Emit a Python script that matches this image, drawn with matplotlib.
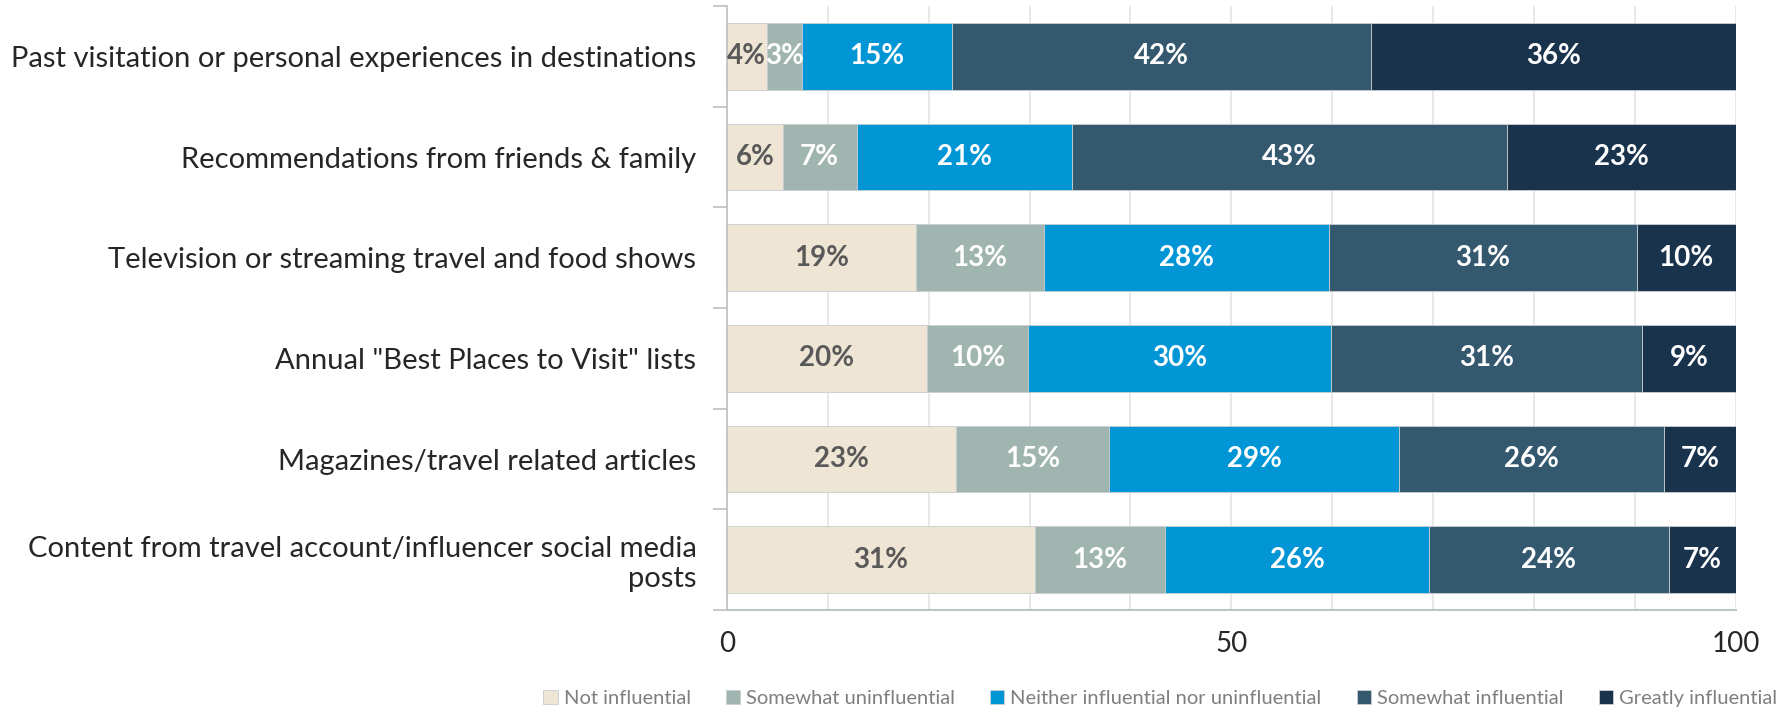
import numpy as np
import matplotlib
matplotlib.use("Agg")
import matplotlib.pyplot as plt
from matplotlib.ticker import MultipleLocator, FixedLocator

plt.rcParams["font.family"] = ["Lato", "DejaVu Sans"]

# =====================
# data
# =====================
categories = [
    "Past visitation or personal experiences in destinations",
    "Recommendations from friends & family",
    "Television or streaming travel and food shows",
    'Annual "Best Places to Visit" lists',
    "Magazines/travel related articles",
    "Content from travel account/influencer social media\nposts",
]
series_names = [
    "Not influential",
    "Somewhat uninfluential",
    "Neither influential nor uninfluential",
    "Somewhat influential",
    "Greatly influential",
]
not_influential = [3.94, 5.52, 18.69, 19.82, 22.75, 30.52]
somewhat_uninfluential = [3.49, 7.32, 12.73, 10.02, 15.09, 12.95]
neither = [14.87, 21.39, 28.26, 30.07, 28.83, 26.12]
somewhat_influential = [41.55, 43.13, 30.52, 30.86, 26.23, 23.77]
greatly_influential = [36.15, 22.64, 9.80, 9.23, 7.10, 6.64]

colors = ["#EEE5D5", "#A0B5B0", "#0096D6", "#34586E", "#1A334D"]
label_colors = ["#595959", "#FFFFFF", "#FFFFFF", "#FFFFFF", "#FFFFFF"]

series = [not_influential, somewhat_uninfluential, neither,
          somewhat_influential, greatly_influential]

# =====================
# plot
# =====================
fig = plt.figure(figsize=(17.81, 7.10), dpi=100)
ax = fig.add_axes([0.4082, 0.1408, 0.5663, 0.8507])

y = np.arange(len(categories))
left = np.zeros(len(categories))
for vals, name, col, tcol in zip(series, series_names, colors, label_colors):
    vals = np.array(vals)
    ax.barh(y, vals, left=left, height=0.66, color=col, label=name,
            edgecolor="#C9CED3", linewidth=0.6, zorder=2)
    for i, v in enumerate(vals):
        ax.text(left[i] + v / 2, y[i], f"{v:.0f}%", ha="center", va="center",
                color=tcol, fontsize=20, fontweight="bold", zorder=3)
    left += vals

ax.set_xlim(0, 100)
ax.set_ylim(len(categories) - 0.5, -0.5)

ax.xaxis.set_major_locator(FixedLocator([0, 50, 100]))
ax.xaxis.set_minor_locator(MultipleLocator(10))
ax.grid(True, axis="x", which="both", color="#E4E4E4", linewidth=1.2, zorder=0)
ax.tick_params(axis="x", which="both", length=0, labelsize=20, pad=15, colors="#262626")

ax.set_yticks(y)
ax.set_yticklabels(categories)
ax.yaxis.set_minor_locator(FixedLocator(np.arange(-0.5, len(categories), 1)))
ax.tick_params(axis="y", which="major", length=0, labelsize=21, pad=22, colors="#262626")
ax.tick_params(axis="y", which="minor", length=10, width=1.2, color="#BFBFBF")

for s in ["top", "right"]:
    ax.spines[s].set_visible(False)
ax.spines["left"].set_color("#BFBFBF")
ax.spines["left"].set_linewidth(1.2)
ax.spines["bottom"].set_color("#B9C8C4")
ax.spines["bottom"].set_linewidth(1.5)

fig.legend(loc="lower right", bbox_to_anchor=(1.008, -0.022), ncol=5, frameon=False,
           fontsize=14.5, handlelength=0.7, handleheight=0.7, handletextpad=0.3,
           columnspacing=1.75, labelcolor="#7F7F7F")

fig.savefig("out.png", dpi=100)
plt.close()
